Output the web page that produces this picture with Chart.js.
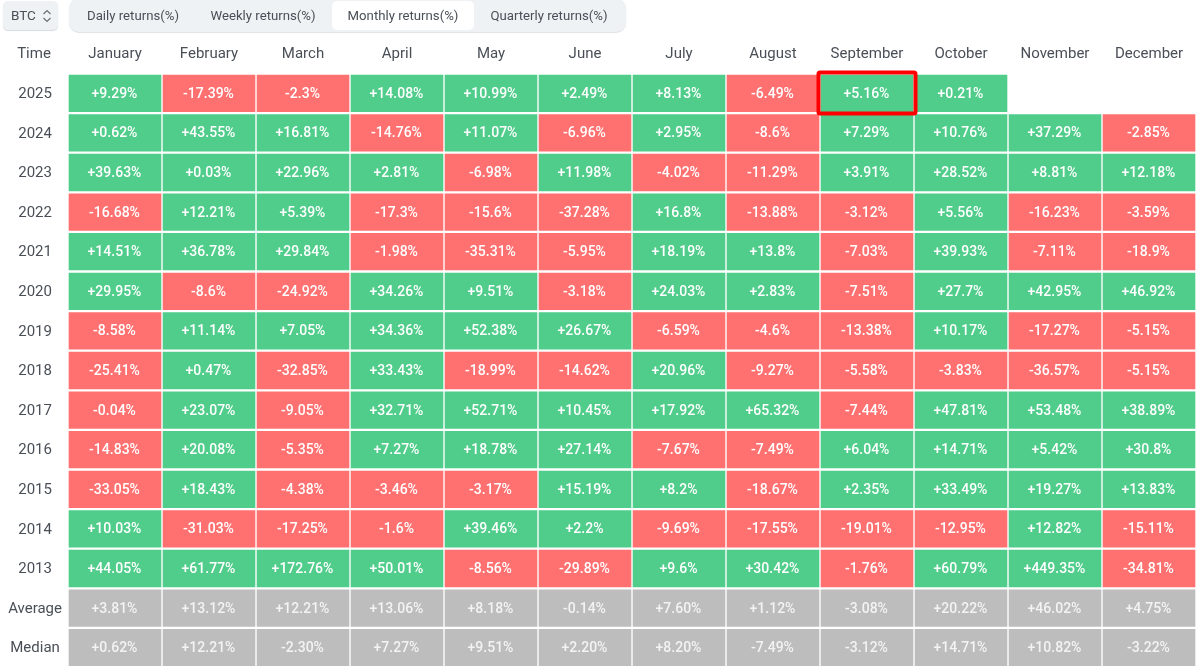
<!DOCTYPE html>
<html><head><meta charset="utf-8">
<script src="https://cdn.jsdelivr.net/npm/chart.js@4"></script>
<style>
html,body{margin:0;padding:0;background:#fff;width:1200px;height:666px;overflow:hidden;font-family:Roboto,sans-serif;color:#4a4f57}
#c{position:absolute;left:0;top:0}
.ui{position:absolute;box-sizing:border-box}
#sel{left:3px;top:1px;width:55px;height:29px;background:#eff2f5;border-radius:5px;box-shadow:0 1px 1px #d5d9de;font-size:13.5px;line-height:29px;padding-left:8px}
#sel svg{position:absolute;left:38px;top:7px}
#tabs{left:69px;top:-2px;width:557px;height:34px;background:#eff2f5;border-radius:10px;box-shadow:0 1px 1px #dfe2e6}
#act{left:332px;top:1px;width:142px;height:29px;background:#fff;border-radius:5px}
.tab{position:absolute;top:1px;height:29px;line-height:29px;font-size:13.2px;transform:translateX(-50%);white-space:nowrap}
#time{left:0;width:68px;top:44px;text-align:center;font-size:15px;line-height:18px}
</style></head><body>
<canvas id="c" width="1200" height="668" style="width:1200px;height:668px"></canvas>
<div class="ui" id="sel">BTC<svg width="12" height="16" viewBox="0 0 12 16" fill="none" stroke="#6b7079" stroke-width="1.2"><path d="M2.5 6 6 2.5 9.5 6M2.5 10 6 13.5 9.5 10"/></svg></div>
<div class="ui" id="tabs"></div>
<div class="ui" id="act"></div>
<div class="tab" style="left:133px">Daily returns(%)</div>
<div class="tab" style="left:263px">Weekly returns(%)</div>
<div class="tab" style="left:403px">Monthly returns(%)</div>
<div class="tab" style="left:549px">Quarterly returns(%)</div>
<div class="ui" id="time">Time</div>
<script>
const months=["January","February","March","April","May","June","July","August","September","October","November","December"];
const rowLabels=["2025","2024","2023","2022","2021","2020","2019","2018","2017","2016","2015","2014","2013","Average","Median"];
const y2025=[9.29,-17.39,-2.3,14.08,10.99,2.49,8.13,-6.49,5.16,0.21,null,null];
const y2024=[0.62,43.55,16.81,-14.76,11.07,-6.96,2.95,-8.6,7.29,10.76,37.29,-2.85];
const y2023=[39.63,0.03,22.96,2.81,-6.98,11.98,-4.02,-11.29,3.91,28.52,8.81,12.18];
const y2022=[-16.68,12.21,5.39,-17.3,-15.6,-37.28,16.8,-13.88,-3.12,5.56,-16.23,-3.59];
const y2021=[14.51,36.78,29.84,-1.98,-35.31,-5.95,18.19,13.8,-7.03,39.93,-7.11,-18.9];
const y2020=[29.95,-8.6,-24.92,34.26,9.51,-3.18,24.03,2.83,-7.51,27.7,42.95,46.92];
const y2019=[-8.58,11.14,7.05,34.36,52.38,26.67,-6.59,-4.6,-13.38,10.17,-17.27,-5.15];
const y2018=[-25.41,0.47,-32.85,33.43,-18.99,-14.62,20.96,-9.27,-5.58,-3.83,-36.57,-5.15];
const y2017=[-0.04,23.07,-9.05,32.71,52.71,10.45,17.92,65.32,-7.44,47.81,53.48,38.89];
const y2016=[-14.83,20.08,-5.35,7.27,18.78,27.14,-7.67,-7.49,6.04,14.71,5.42,30.8];
const y2015=[-33.05,18.43,-4.38,-3.46,-3.17,15.19,8.2,-18.67,2.35,33.49,19.27,13.83];
const y2014=[10.03,-31.03,-17.25,-1.6,39.46,2.2,-9.69,-17.55,-19.01,-12.95,12.82,-15.11];
const y2013=[44.05,61.77,172.76,50.01,-8.56,-29.89,9.6,30.42,-1.76,60.79,449.35,-34.81];
const average=[3.81,13.12,12.21,13.06,8.18,-0.14,7.60,1.12,-3.08,20.22,46.02,4.75];
const median=[0.62,12.21,-2.30,7.27,9.51,2.20,8.20,-7.49,-3.12,14.71,10.82,-3.22];
const rows=[y2025,y2024,y2023,y2022,y2021,y2020,y2019,y2018,y2017,y2016,y2015,y2014,y2013,average,median];
const highlight={row:"2025",month:"September"};
const GREEN="#50cd8b",RED="#ff7070",GREY="#bdbdbd";
const isStat=r=>r>=13;
const fmt=(v,r)=>{const s=isStat(r)?Math.abs(v).toFixed(2):String(Math.abs(v));return (v>=0?"+":"-")+s+"%";};
const cellLabels={id:"cellLabels",afterDatasetsDraw(ch){
  const c=ch.ctx;c.save();c.textAlign="center";c.textBaseline="middle";c.font="500 14px Roboto";
  ch.data.datasets.forEach((ds,j)=>{ch.getDatasetMeta(j).data.forEach((el,r)=>{
    const v=rows[r][j];if(v==null)return;
    const p=el.getCenterPoint();
    c.fillStyle=isStat(r)?"rgba(255,255,255,.82)":"#fff";
    c.fillText(fmt(v,r),p.x-0.5,p.y+1);
  });});
  const j=months.indexOf(highlight.month),r=rowLabels.indexOf(highlight.row);
  const el=ch.getDatasetMeta(j).data[r],p=el.getProps(["x","y","base","height"],true);
  c.strokeStyle="#f00";c.lineWidth=4;c.lineJoin="round";
  c.beginPath();c.roundRect(p.base-1.5,p.y-p.height/2-1,p.x-p.base+3,p.height+1.5,1.5);c.stroke();
  c.restore();
}};
new Chart(document.getElementById("c"),{
  type:"bar",
  data:{labels:rowLabels,datasets:months.map((m,j)=>({
    label:m,xAxisID:"x",
    data:rows.map(r=>r[j]==null?null:1),
    backgroundColor:rows.map((r,i)=>isStat(i)?GREY:(r[j]>=0?GREEN:RED)),
    borderColor:"#fff",
    borderWidth:{left:1,right:1,top:1.5,bottom:1.5},
    borderSkipped:false,
    stack:"s"
  }))},
  plugins:[cellLabels],
  options:{
    indexAxis:"y",responsive:false,animation:false,
    layout:{padding:{left:0,right:4,top:0,bottom:0.5}},
    plugins:{legend:{display:false},tooltip:{enabled:false}},
    scales:{
      x:{type:"linear",display:false,stacked:true,min:0,max:12},
      months:{type:"category",axis:"x",position:"top",labels:months,offset:true,
        grid:{display:false,drawTicks:false},border:{display:false},
        ticks:{color:"#4a4f57",font:{family:"Roboto",size:15},padding:10,maxRotation:0,autoSkip:false},
        afterFit(s){s.height=73.5;s.paddingLeft=0;s.paddingRight=0;}},
      y:{type:"category",stacked:true,position:"left",
        grid:{display:false,drawTicks:false},border:{display:false},
        ticks:{color:"#4a4f57",font:{family:"Roboto",size:15},crossAlign:"center",autoSkip:false,padding:6,labelOffset:1},
        afterFit(s){s.width=68;s.paddingTop=0;s.paddingBottom=0;}}
    },
    datasets:{bar:{categoryPercentage:1,barPercentage:1}}
  }
});
</script></body></html>
